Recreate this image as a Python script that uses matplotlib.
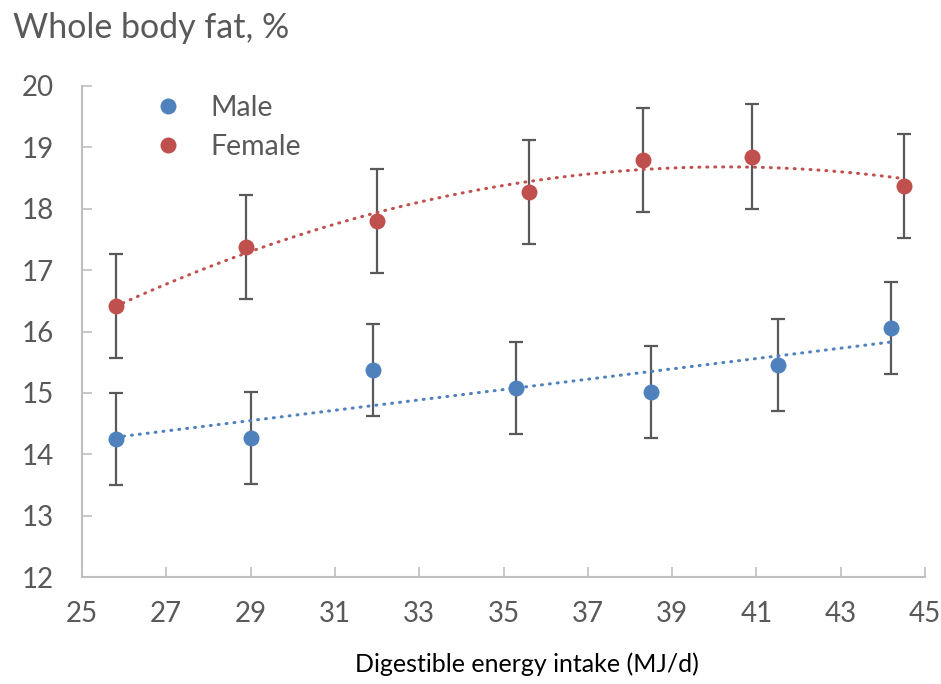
import numpy as np
import matplotlib
matplotlib.use('Agg')
import matplotlib.pyplot as plt

plt.rcParams['font.family'] = ['Lato', 'DejaVu Sans']

# Data
male_x = [25.8, 29.0, 31.9, 35.3, 38.5, 41.5, 44.2]
male_y = [14.25, 14.27, 15.37, 15.08, 15.01, 15.45, 16.05]
male_err = [0.75, 0.75, 0.75, 0.75, 0.75, 0.75, 0.75]

female_x = [25.8, 28.9, 32.0, 35.6, 38.3, 40.9, 44.5]
female_y = [16.42, 17.38, 17.80, 18.27, 18.79, 18.85, 18.37]
female_err = [0.85, 0.85, 0.85, 0.85, 0.85, 0.85, 0.85]

x_ticks = [25, 27, 29, 31, 33, 35, 37, 39, 41, 43, 45]
y_ticks = [12, 13, 14, 15, 16, 17, 18, 19, 20]

blue = '#4F81BD'
red = '#C0504D'
txt = '#595959'
grid = '#BFBFBF'

fig = plt.figure(figsize=(9.41, 6.84), dpi=100)
ax = fig.add_axes([0.0871, 0.1564, 0.8960, 0.7179])

# Error bars
ax.errorbar(male_x, male_y, yerr=male_err, fmt='none', ecolor=txt,
            elinewidth=1.6, capsize=5, capthick=1.6, zorder=2)
ax.errorbar(female_x, female_y, yerr=female_err, fmt='none', ecolor=txt,
            elinewidth=1.6, capsize=5, capthick=1.6, zorder=2)

# Trendlines: linear for male, 2nd order polynomial for female
mx = np.linspace(min(male_x), max(male_x), 200)
mfit = np.polyval(np.polyfit(male_x, male_y, 1), mx)
fx = np.linspace(min(female_x), max(female_x), 200)
ffit = np.polyval(np.polyfit(female_x, female_y, 2), fx)
ax.plot(mx, mfit, color=blue, lw=2.2, dashes=(0.3, 2.3),
        dash_capstyle='round', zorder=3)
ax.plot(fx, ffit, color=red, lw=2.2, dashes=(0.3, 2.3),
        dash_capstyle='round', zorder=3)

# Points
ax.plot(male_x, male_y, 'o', color=blue, ms=11.5, mec='none', zorder=4, label='Male')
ax.plot(female_x, female_y, 'o', color=red, ms=11.5, mec='none', zorder=4, label='Female')

ax.set_xlim(25, 45)
ax.set_ylim(12, 20)
ax.set_xticks(x_ticks)
ax.set_yticks(y_ticks)

for s in ['top', 'right']:
    ax.spines[s].set_visible(False)
for s in ['left', 'bottom']:
    ax.spines[s].set_color(grid)
    ax.spines[s].set_linewidth(1.5)

ax.tick_params(axis='both', direction='in', length=7, width=1.2, color=grid,
               labelcolor=txt, labelsize=20)
ax.tick_params(axis='y', pad=20)
ax.tick_params(axis='x', pad=17)

leg = ax.legend(loc='upper left', bbox_to_anchor=(0.065, 1.01), frameon=False,
                fontsize=20.5, handletextpad=0.9, labelspacing=0.45,
                borderaxespad=0.1, handlelength=1.2)
for t in leg.get_texts():
    t.set_color(txt)

fig.text(13 / 941, 1 - 28 / 684, 'Whole body fat, %', fontsize=24.5, color=txt,
         ha='left', va='center')
fig.text(527 / 941, 1 - 664 / 684, 'Digestible energy intake (MJ/d)', fontsize=18,
         color='black', ha='center', va='center')

fig.savefig('out.png', dpi=100)
